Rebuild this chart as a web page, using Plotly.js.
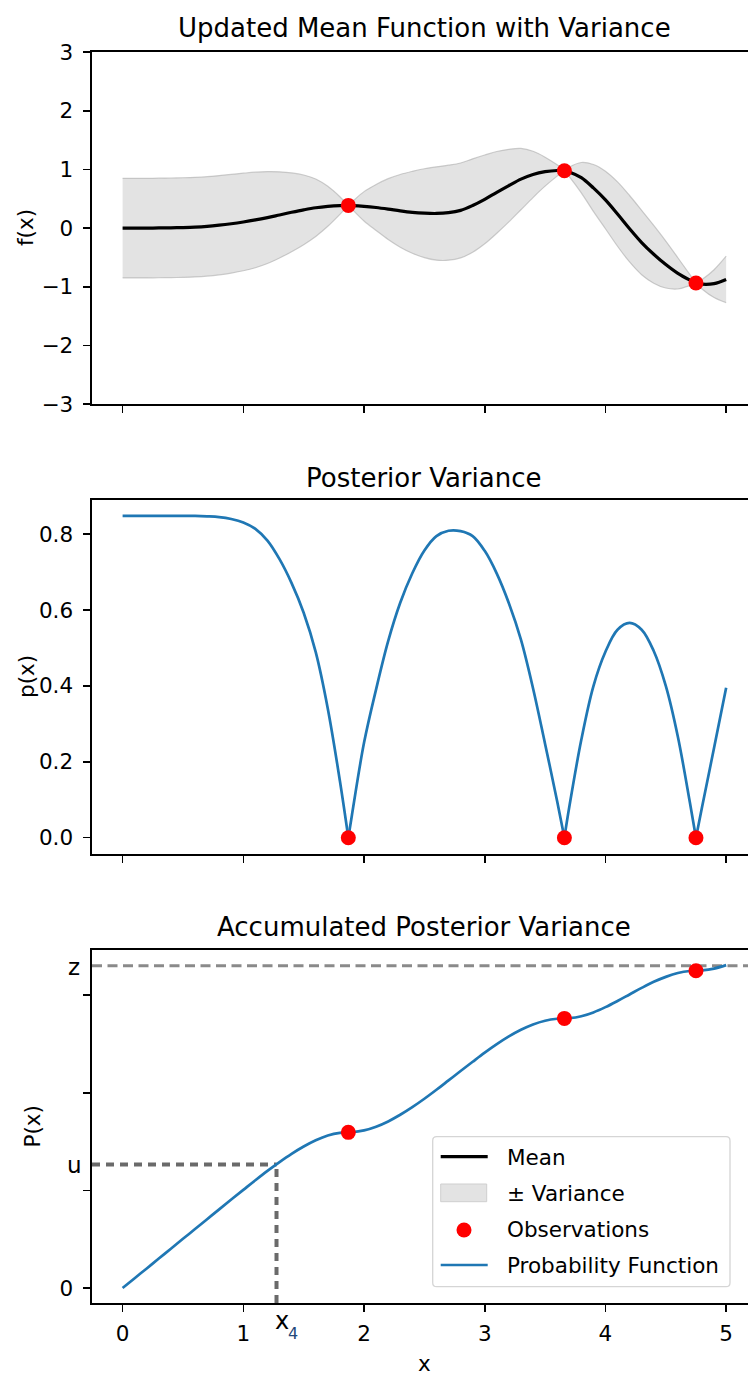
<!DOCTYPE html>
<html>
<head>
<meta charset="utf-8">
<script src="https://cdn.plot.ly/plotly-3.0.1.min.js"></script>
<style>html,body{margin:0;padding:0;background:#fff;}#chart{width:748px;height:1376px;}</style>
</head>
<body>
<div id="chart"></div>
<script>
// ---- data ----
const xs = [0,0.1,0.2,0.3,0.4,0.5,0.6,0.7,0.8,0.9,1.0,1.1,1.2,1.3,1.4,1.5,1.6,1.7,1.8,1.87,1.9,2.0,2.1,2.2,2.3,2.4,2.5,2.6,2.7,2.8,2.9,3.0,3.1,3.2,3.3,3.4,3.5,3.6,3.66,3.7,3.8,3.9,4.0,4.1,4.2,4.3,4.4,4.5,4.6,4.7,4.75,4.8,4.9,5.0];
const meanF = [0,0,0,0.003,0.006,0.01,0.017,0.03,0.05,0.075,0.105,0.14,0.18,0.225,0.27,0.312,0.348,0.372,0.385,0.387,0.385,0.372,0.352,0.325,0.295,0.27,0.255,0.25,0.263,0.302,0.385,0.49,0.61,0.725,0.835,0.915,0.962,0.982,0.978,0.958,0.86,0.685,0.48,0.24,-0.01,-0.245,-0.445,-0.62,-0.77,-0.885,-0.935,-0.955,-0.945,-0.873];
const varP = [0.848,0.848,0.848,0.848,0.848,0.848,0.848,0.847,0.845,0.840,0.831,0.814,0.783,0.734,0.671,0.593,0.489,0.340,0.150,0,0.060,0.250,0.391,0.518,0.619,0.697,0.757,0.795,0.809,0.808,0.795,0.756,0.696,0.618,0.522,0.394,0.247,0.096,0,0.080,0.258,0.399,0.490,0.548,0.566,0.548,0.492,0.400,0.266,0.092,0,0.080,0.237,0.395];
const accP = [0,0.101,0.201,0.302,0.403,0.504,0.604,0.705,0.806,0.906,1.005,1.104,1.200,1.290,1.374,1.449,1.513,1.562,1.589,1.594,1.595,1.614,1.652,1.706,1.774,1.852,1.938,2.030,2.126,2.222,2.317,2.410,2.497,2.576,2.644,2.699,2.737,2.757,2.761,2.763,2.783,2.822,2.876,2.939,3.006,3.073,3.135,3.186,3.225,3.246,3.249,3.252,3.271,3.306];
const obsX = [1.87, 3.66, 4.75];
const obsMean = [0.387, 0.978, -0.935];
const obsVar = [0, 0, 0];
const obsAcc = [1.594, 2.761, 3.249];
const x4 = 1.275;
const uLevel = 1.265;
const zLevel = 3.30;
const xTickVals = [0,1,2,3,4,5];
const xTickText = ['0','1','2','3','4','5'];
const fTickVals = [-3,-2,-1,0,1,2,3];
const fTickText = ['\u22123','\u22122','\u22121','0','1','2','3'];
const pTickVals = [0,0.2,0.4,0.6,0.8];
const pTickText = ['0.0','0.2','0.4','0.6','0.8'];
const PTickVals = [0,1,2,3];
const PTickText = ['0','','',''];
const titles = ['Updated Mean Function with Variance','Posterior Variance','Accumulated Posterior Variance'];
const yLabels = ['f(x)','p(x)','P(x)'];
const legendLabels = ['Mean','\u00b1 Variance','Observations','Probability Function'];

// ---- layout helpers ----
const W = 748, H = 1376, ML = 92, MR = 0, MT = 52, MB = 73;
const PW = W - ML - MR, PH = H - MT - MB;
const px = v => (v - ML) / PW;
const py = v => (H - MB - v) / PH;
const xRange = [-0.2535, 5.181];
const fRange = [-3, 3];
const pRange = [-0.0438, 0.890];
const PRange = [-0.153, 3.461];
const FONT = 'DejaVu Sans';
const BLUE = '#1f77b4';

const lower = xs.map((x, i) => meanF[i] - varP[i]);
const upper = xs.map((x, i) => meanF[i] + varP[i]);

// split at observation points (cusps of the variance) so the spline keeps them sharp
const cut = [0].concat(obsX.map(o => xs.indexOf(o)), [xs.length - 1]);
const segs = [];
for (let k = 0; k < cut.length - 1; k++) if (cut[k + 1] > cut[k]) segs.push([cut[k], cut[k + 1] + 1]);
const sl = (arr, s) => arr.slice(s[0], s[1]);

const traces = [];
const edge = {color: 'rgba(165,165,165,0.55)', width: 1.2, shape: 'spline', smoothing: 1};
segs.forEach(s => {
  traces.push({x: sl(xs, s), y: sl(lower, s), xaxis: 'x', yaxis: 'y', mode: 'lines', line: edge, showlegend: false, hoverinfo: 'skip'});
  traces.push({x: sl(xs, s), y: sl(upper, s), xaxis: 'x', yaxis: 'y', mode: 'lines', fill: 'tonexty', fillcolor: 'rgba(128,128,128,0.22)', line: edge, showlegend: false, hoverinfo: 'skip'});
});
traces.push({x: xs, y: meanF, xaxis: 'x', yaxis: 'y', mode: 'lines', line: {color: '#000000', width: 3.2, shape: 'spline', smoothing: 1}, name: legendLabels[0], showlegend: false});
traces.push({x: obsX, y: obsMean, xaxis: 'x', yaxis: 'y', mode: 'markers', marker: {color: '#ff0000', size: 15}, name: legendLabels[2], showlegend: false});
segs.forEach(s => {
  traces.push({x: sl(xs, s), y: sl(varP, s), xaxis: 'x2', yaxis: 'y2', mode: 'lines', line: {color: BLUE, width: 2.7, shape: 'spline', smoothing: 1}, showlegend: false});
});
traces.push({x: obsX, y: obsVar, xaxis: 'x2', yaxis: 'y2', mode: 'markers', marker: {color: '#ff0000', size: 15}, showlegend: false, cliponaxis: false});
traces.push({x: xs, y: accP, xaxis: 'x3', yaxis: 'y3', mode: 'lines', line: {color: BLUE, width: 2.7, shape: 'spline', smoothing: 1}, name: legendLabels[3], showlegend: false});
traces.push({x: obsX, y: obsAcc, xaxis: 'x3', yaxis: 'y3', mode: 'markers', marker: {color: '#ff0000', size: 15}, showlegend: false});

const tickFont = {family: FONT, size: 21.5, color: '#000'};
function xAxis(anchor, labels) {
  return {anchor: anchor, domain: [0, 1], range: xRange, tickvals: xTickVals, ticktext: xTickText,
    showticklabels: labels, ticks: 'outside', ticklen: 7, tickwidth: 1.6, tickcolor: '#000',
    showline: true, linecolor: '#000', linewidth: 1.6, mirror: true, showgrid: false, zeroline: false,
    tickfont: tickFont, ticklabelstandoff: 4};
}
function yAxis(anchor, dom, range, tv, tt) {
  return {anchor: anchor, domain: dom, range: range, tickvals: tv, ticktext: tt,
    ticks: 'outside', ticklen: 7, tickwidth: 1.6, tickcolor: '#000',
    showline: true, linecolor: '#000', linewidth: 1.6, mirror: false, showgrid: false, zeroline: false,
    tickfont: tickFont, ticklabelstandoff: 6};
}

const ann = [];
function addText(text, x, y, size, opts) {
  ann.push(Object.assign({text: text, x: x, y: y, xref: 'paper', yref: 'paper', showarrow: false,
    xanchor: 'center', yanchor: 'middle', font: {family: FONT, size: size, color: '#000'}}, opts || {}));
}
addText(titles[0], px(424), py(28.4), 26);
addText(titles[1], px(424), py(477.6), 26);
addText(titles[2], px(424), py(926.5), 26);
addText(yLabels[0], px(25), py(228), 21.5, {textangle: -90});
addText(yLabels[1], px(26), py(677), 21.5, {textangle: -90});
addText(yLabels[2], px(32), py(1126.5), 21.5, {textangle: -90});
addText('x', px(424), py(1363), 21.5);
addText('u', px(74), py(1165), 23);
addText('z', px(74), py(967), 23);
addText('x', px(281.6), py(1320.5), 24);
addText('4', px(292.8), py(1333.8), 16, {font: {family: FONT, size: 16, color: '#23487a'}});
const legY = [1157, 1193, 1229, 1265];
legendLabels.forEach((t, i) => addText(t, px(505), py(legY[i]), 21.5, {xanchor: 'left'}));

// legend box & samples + reference lines
const r = 4, bx0 = px(432.7), bx1 = px(730), by0 = py(1286.7), by1 = py(1136.7);
const rx = r / PW, ry = r / PH;
const boxPath = `M ${bx0 + rx},${by0} L ${bx1 - rx},${by0} Q ${bx1},${by0} ${bx1},${by0 + ry} L ${bx1},${by1 - ry} Q ${bx1},${by1} ${bx1 - rx},${by1} L ${bx0 + rx},${by1} Q ${bx0},${by1} ${bx0},${by1 - ry} L ${bx0},${by0 + ry} Q ${bx0},${by0} ${bx0 + rx},${by0} Z`;

const shapes = [
  {type: 'line', xref: 'x3 domain', yref: 'y3', x0: 0, x1: 1, y0: zLevel, y1: zLevel, layer: 'below',
    line: {color: '#8a8a8a', width: 3, dash: '10px,5.5px'}},
  {type: 'line', xref: 'x3', yref: 'y3', x0: xRange[0], x1: x4, y0: uLevel, y1: uLevel, layer: 'below',
    line: {color: '#6a6a6a', width: 4, dash: '8px,6px'}},
  {type: 'line', xref: 'x3', yref: 'y3', x0: x4, x1: x4, y0: PRange[0], y1: uLevel, layer: 'below',
    line: {color: '#6a6a6a', width: 4, dash: '8px,6px'}},
  {type: 'path', xref: 'paper', yref: 'paper', path: boxPath, fillcolor: 'rgba(255,255,255,0.85)',
    line: {color: '#d5d5d5', width: 1.3}, layer: 'above'},
  {type: 'line', xref: 'paper', yref: 'paper', x0: px(440.7), x1: px(487.7), y0: py(1156.7), y1: py(1156.7),
    line: {color: '#000', width: 3.2}},
  {type: 'rect', xref: 'paper', yref: 'paper', x0: px(440.7), x1: px(486.7), y0: py(1201.7), y1: py(1184),
    fillcolor: '#e3e3e3', line: {color: '#cfcfcf', width: 1}},
  {type: 'circle', xref: 'paper', yref: 'paper', x0: px(456.5), x1: px(471.5), y0: py(1237.5), y1: py(1222.5),
    fillcolor: '#ff0000', line: {width: 0}},
  {type: 'line', xref: 'paper', yref: 'paper', x0: px(440.7), x1: px(487.7), y0: py(1265), y1: py(1265),
    line: {color: BLUE, width: 2.7}}
];

const layout = {
  width: W, height: H,
  margin: {l: ML, r: MR, t: MT, b: MB, pad: 0},
  paper_bgcolor: '#fff', plot_bgcolor: '#fff',
  showlegend: false,
  font: {family: FONT, size: 21.5, color: '#000'},
  xaxis: xAxis('y', false),
  yaxis: yAxis('x', [0.71839, 1], fRange, fTickVals, fTickText),
  xaxis2: xAxis('y2', false),
  yaxis2: yAxis('x2', [0.35867, 0.64189], pRange, pTickVals, pTickText),
  xaxis3: xAxis('y3', true),
  yaxis3: yAxis('x3', [0, 0.28217], PRange, PTickVals, PTickText),
  annotations: ann,
  shapes: shapes
};

Plotly.newPlot('chart', traces, layout, {displayModeBar: false, staticPlot: true});
</script>
</body>
</html>
